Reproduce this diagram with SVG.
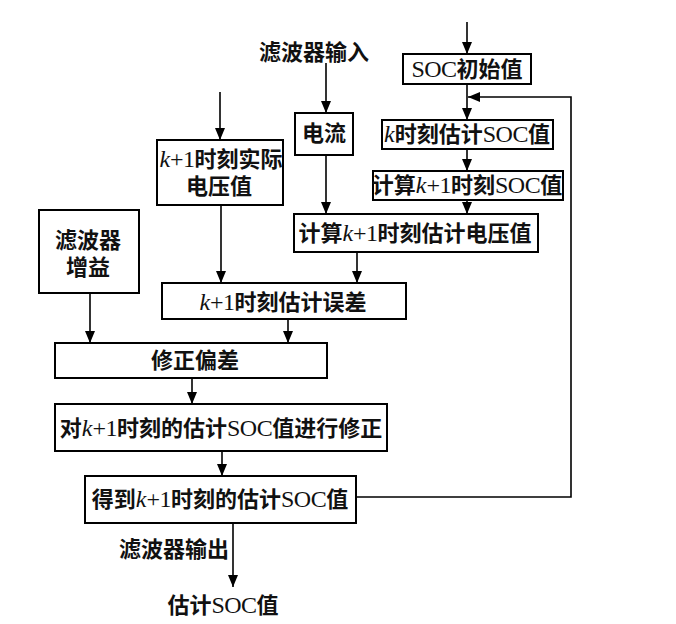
<svg xmlns="http://www.w3.org/2000/svg" width="676" height="624" viewBox="0 0 676 624">
<defs>
<marker id="ah" viewBox="0 0 12 10" refX="12" refY="5" markerWidth="12" markerHeight="10" markerUnits="userSpaceOnUse" orient="auto">
<path d="M0,0 L12,5 L0,10 Z" fill="#000"/>
</marker>
</defs>
<style>
.box{fill:#fff;stroke:#000;stroke-width:2}
.ln{fill:none;stroke:#000;stroke-width:1.6}
.ar{fill:none;stroke:#000;stroke-width:1.6;marker-end:url(#ah)}
text{font-family:"Liberation Serif","Noto Sans CJK SC",serif;font-size:22px;font-weight:bold;fill:#111;text-anchor:middle}
.k{font-style:italic;font-weight:normal;font-size:24px}
.l{font-weight:normal;font-size:24px;letter-spacing:-0.5px}
</style>
<rect width="676" height="624" fill="#fff"/>
<g id="connectors">
<line class="ar" x1="467" y1="22" x2="467" y2="54"/>
<line class="ar" x1="467" y1="84" x2="467" y2="120"/>
<line class="ar" x1="467" y1="149" x2="467" y2="171"/>
<line class="ar" x1="467" y1="200" x2="467" y2="214"/>
<polyline class="ar" points="356,497 571,497 571,97 468,97"/>
<line class="ar" x1="326" y1="63" x2="326" y2="113"/>
<line class="ar" x1="326" y1="155" x2="326" y2="214"/>
<line class="ar" x1="220" y1="92" x2="220" y2="140"/>
<line class="ar" x1="221" y1="205" x2="221" y2="283"/>
<line class="ar" x1="357" y1="252" x2="357" y2="283"/>
<line class="ar" x1="90" y1="293" x2="90" y2="343"/>
<line class="ar" x1="288" y1="319" x2="288" y2="343"/>
<line class="ar" x1="192" y1="378" x2="192" y2="404"/>
<line class="ar" x1="222" y1="451" x2="222" y2="476"/>
<line class="ar" x1="233" y1="523" x2="233" y2="587"/>
</g>
<g id="n_input"><text x="314" y="60">滤波器输入</text></g>
<g id="n_soc0"><rect class="box" x="403" y="54" width="128" height="30"/><text x="467" y="77"><tspan class="l">SOC</tspan>初始值</text></g>
<g id="n_current"><rect class="box" x="295" y="113" width="58" height="42"/><text x="324" y="141">电流</text></g>
<g id="n_actual"><rect class="box" x="157" y="140" width="126" height="65"/><text x="221" y="167"><tspan class="k">k</tspan><tspan class="l">+1</tspan>时刻实际</text><text x="219" y="194">电压值</text></g>
<g id="n_ksoc"><rect class="box" x="382" y="120" width="171" height="29"/><text x="467" y="142"><tspan class="k">k</tspan>时刻估计<tspan class="l">SOC</tspan>值</text></g>
<g id="n_k1soc"><rect class="box" x="373" y="171" width="190" height="29"/><text x="467" y="193">计算<tspan class="k">k</tspan><tspan class="l">+1</tspan>时刻<tspan class="l">SOC</tspan>值</text></g>
<g id="n_estv"><rect class="box" x="294" y="214" width="244" height="38"/><text x="415" y="241">计算<tspan class="k">k</tspan><tspan class="l">+1</tspan>时刻估计电压值</text></g>
<g id="n_gain"><rect class="box" x="39" y="210" width="100" height="83"/><text x="88" y="248">滤波器</text><text x="88" y="275">增益</text></g>
<g id="n_err"><rect class="box" x="162" y="283" width="244" height="36"/><text x="283" y="310"><tspan class="k">k</tspan><tspan class="l">+1</tspan>时刻估计误差</text></g>
<g id="n_corr"><rect class="box" x="55" y="343" width="272" height="35"/><text x="195" y="368">修正偏差</text></g>
<g id="n_fix"><rect class="box" x="55" y="404" width="332" height="47"/><text x="221" y="436">对<tspan class="k">k</tspan><tspan class="l">+1</tspan>时刻的估计<tspan class="l">SOC</tspan>值进行修正</text></g>
<g id="n_get"><rect class="box" x="85" y="476" width="271" height="47"/><text x="220" y="507">得到<tspan class="k">k</tspan><tspan class="l">+1</tspan>时刻的估计<tspan class="l">SOC</tspan>值</text></g>
<g id="n_output"><text x="174" y="557">滤波器输出</text></g>
<g id="n_est"><text x="223" y="613">估计<tspan class="l">SOC</tspan>值</text></g>
</svg>
